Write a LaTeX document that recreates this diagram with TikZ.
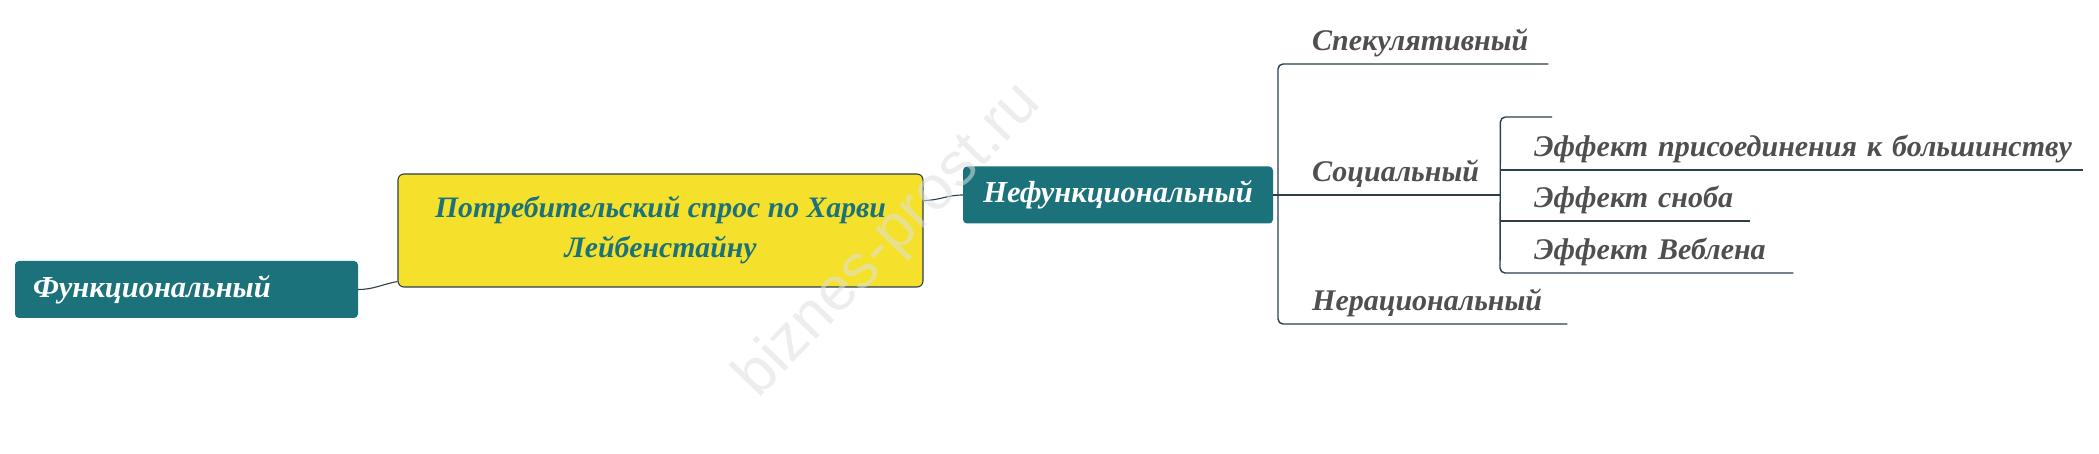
\documentclass[tikz,border=0pt]{standalone}
\usepackage{fontspec}
\setmainfont{Liberation Serif}
\setsansfont{Liberation Sans}

\definecolor{mapteal}{HTML}{1B727A}
\definecolor{mapyellow}{HTML}{F5E12B}
\definecolor{leafgray}{HTML}{4F4F4F}
\definecolor{linecol}{HTML}{2B3F4C}

\tikzset{
        topic/.style={fill=mapteal, text=white, rounded corners=4pt,
                minimum height=57pt, inner sep=0pt,
                font=\fontsize{30.5}{36}\selectfont\bfseries\itshape},
        rootbox/.style={draw=linecol, line width=1.1pt, fill=mapyellow,
                text=mapteal, rounded corners=6pt, minimum width=525pt,
                minimum height=113pt, align=center,
                font=\fontsize{29.7}{40}\selectfont\bfseries\itshape},
        leaf/.style={anchor=south west, inner xsep=0pt, inner ysep=2pt,
                text width=#1, align=left, text=leafgray,
                font=\fontsize{30}{36}\selectfont\bfseries\itshape,
                execute at begin node={\hspace*{34pt}\strut}},
        branch/.style={draw=linecol, line width=1.4pt, rounded corners=5pt},
        link/.style={draw=linecol, line width=1.1pt},
        watermark/.style={text=black!12, text opacity=0.55,
                font=\fontsize{62}{70}\selectfont\sffamily}
}

\begin{document}
\begin{tikzpicture}[x=1pt, y=-1pt]

        \fill[white] (0,0) rectangle (2099,454);
        \useasboundingbox (0,0) rectangle (2099,454);

        % main topics
        \node[rootbox] (root) at (660.5,230.5)
                {Потребительский спрос по Харви\\Лейбенстайну};
        \node[topic, text width=307pt, inner xsep=18pt, align=left] (func)
                at (186.5,289.5) {Функциональный};
        \node[topic, minimum width=310pt] (nefunc) at (1118,195)
                {Нефункциональный};

        \draw[link] (func.east) to[out=0, in=190] ([yshift=6pt]root.south west);
        \draw[link] ([yshift=30pt]root.east) to[out=0, in=180] (nefunc.west);

        % first level
        \node[leaf=270pt] (spec) at (1278,64) {Спекулятивный};
        \node[leaf=222pt] (soc) at (1278,195) {Социальный};
        \node[leaf=289pt] (nerac) at (1278,324) {Нерациональный};

        \draw[branch] (nefunc.east) -- (soc.south east);
        \draw[branch] (spec.south east) -- (spec.south west)
                -- (nerac.south west) -- (nerac.south east);

        % second level
        \node[leaf=583pt] (eff1) at (1500,170) {Эффект присоединения к большинству};
        \node[leaf=250pt] (eff2) at (1500,221) {Эффект сноба};
        \node[leaf=293pt] (eff3) at (1500,273) {Эффект Веблена};

        \coordinate (stub) at (1552,117);
        \draw[branch] (stub) -- (stub -| soc.south east)
                -- (eff3.south west) -- (eff3.south east);
        \foreach \n in {eff1, eff2}
        {
                \draw[branch] (\n.south west) -- (\n.south east);
        }

        \node[watermark, rotate=46] (mark) at (889,241) {biznes-prost.ru};

\end{tikzpicture}
\end{document}
